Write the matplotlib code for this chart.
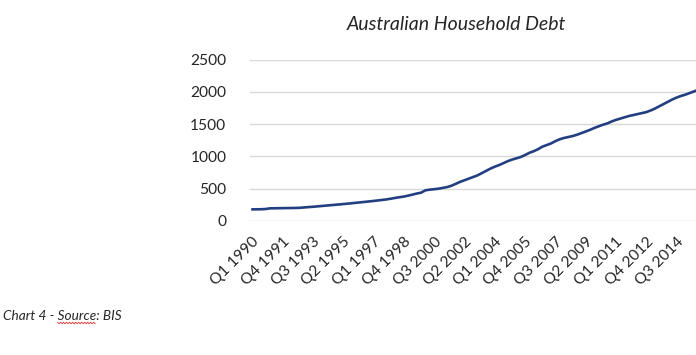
import matplotlib
matplotlib.use("Agg")
import matplotlib.pyplot as plt
import numpy as np

# Quarterly data Q1 1990 .. Q4 2015
years = list(range(1990, 2016))
quarters = [f"Q{q} {y}" for y in years for q in (1, 2, 3, 4)]
debt = [
    180, 181, 182, 185,      # 1990
    195, 197, 198, 199,      # 1991
    200, 201, 202, 204,      # 1992
    210, 215, 220, 226,      # 1993
    232, 238, 244, 250,      # 1994
    256, 262, 268, 275,      # 1995
    282, 289, 296, 303,      # 1996
    310, 318, 326, 334,      # 1997
    345, 357, 368, 378,      # 1998
    392, 408, 425, 438,      # 1999
    475, 485, 492, 500,      # 2000
    512, 525, 545, 575,      # 2001
    605, 630, 655, 680,      # 2002
    705, 740, 775, 810,      # 2003
    840, 865, 895, 925,      # 2004
    950, 970, 990, 1020,     # 2005
    1055, 1080, 1110, 1150,  # 2006
    1175, 1200, 1235, 1265,  # 2007
    1285, 1300, 1315, 1335,  # 2008
    1360, 1385, 1410, 1440,  # 2009
    1465, 1490, 1510, 1540,  # 2010
    1565, 1585, 1605, 1625,  # 2011
    1640, 1655, 1670, 1685,  # 2012
    1710, 1740, 1775, 1810,  # 2013
    1845, 1880, 1910, 1935,  # 2014
    1955, 1980, 2005, 2030,  # 2015
]
title = "Australian Household Debt"
caption_pre = "Chart 4 - "
caption_src = "Source"
caption_post = ": BIS"
yticks = [0, 500, 1000, 1500, 2000, 2500]
label_step = 7

font = "Lato"
plt.rcParams["font.family"] = [font, "DejaVu Sans"]

W, H = 696, 355
fig = plt.figure(figsize=(W / 100, H / 100), dpi=100)
ax = fig.add_axes([250 / W, 1 - 221 / H, 1 - 250 / W, (221 - 59.5) / H])

x = np.arange(len(debt))
ax.plot(x, debt, color="#223f82", lw=1.9, solid_capstyle="round", clip_on=True)

ax.set_ylim(0, 2500)
ax.set_xlim(-0.5, 102.5)
ax.set_yticks(yticks)
ax.set_yticklabels([str(v) for v in yticks], fontsize=11.2, color="#262626")
ax.set_xticks(x[::label_step])
ax.set_xticklabels(quarters[::label_step], rotation=45, ha="right",
                   rotation_mode="anchor", fontsize=11.2, color="#262626")
ax.tick_params(axis="both", length=0)
ax.tick_params(axis="y", pad=17)
ax.tick_params(axis="x", pad=10)
ax.grid(axis="y", color="#d9d9d9", lw=1)
ax.set_axisbelow(True)
for s in ax.spines.values():
    s.set_visible(False)

fig.text(456 / W, 1 - 24 / H, title, ha="center", va="center",
         fontsize=14, style="italic", color="#262626")

# caption with spell-check squiggle under "Source"
cy = 1 - 316 / H
fig.text(3 / W, cy, caption_pre + caption_src + caption_post, ha="left",
         va="center", fontsize=9.8, style="italic", color="#262626")
fig.canvas.draw()
r = fig.canvas.get_renderer()
tmp1 = fig.text(3 / W, cy, caption_pre, fontsize=9.8, style="italic", va="center")
tmp2 = fig.text(3 / W, cy, caption_pre + caption_src, fontsize=9.8, style="italic", va="center")
e1 = tmp1.get_window_extent(r)
e2 = tmp2.get_window_extent(r)
tmp1.remove()
tmp2.remove()
x0, x1 = e1.x1, e2.x1
yb = e2.y0 - 1
xs = np.arange(x0, x1, 1.5)
ys = yb + np.where(np.arange(len(xs)) % 2 == 0, 0.8, -0.8)
fig.add_artist(plt.Line2D(xs / W, ys / H, color="#e03030", lw=0.6,
                          transform=fig.transFigure))

fig.savefig("out.png", dpi=100)
